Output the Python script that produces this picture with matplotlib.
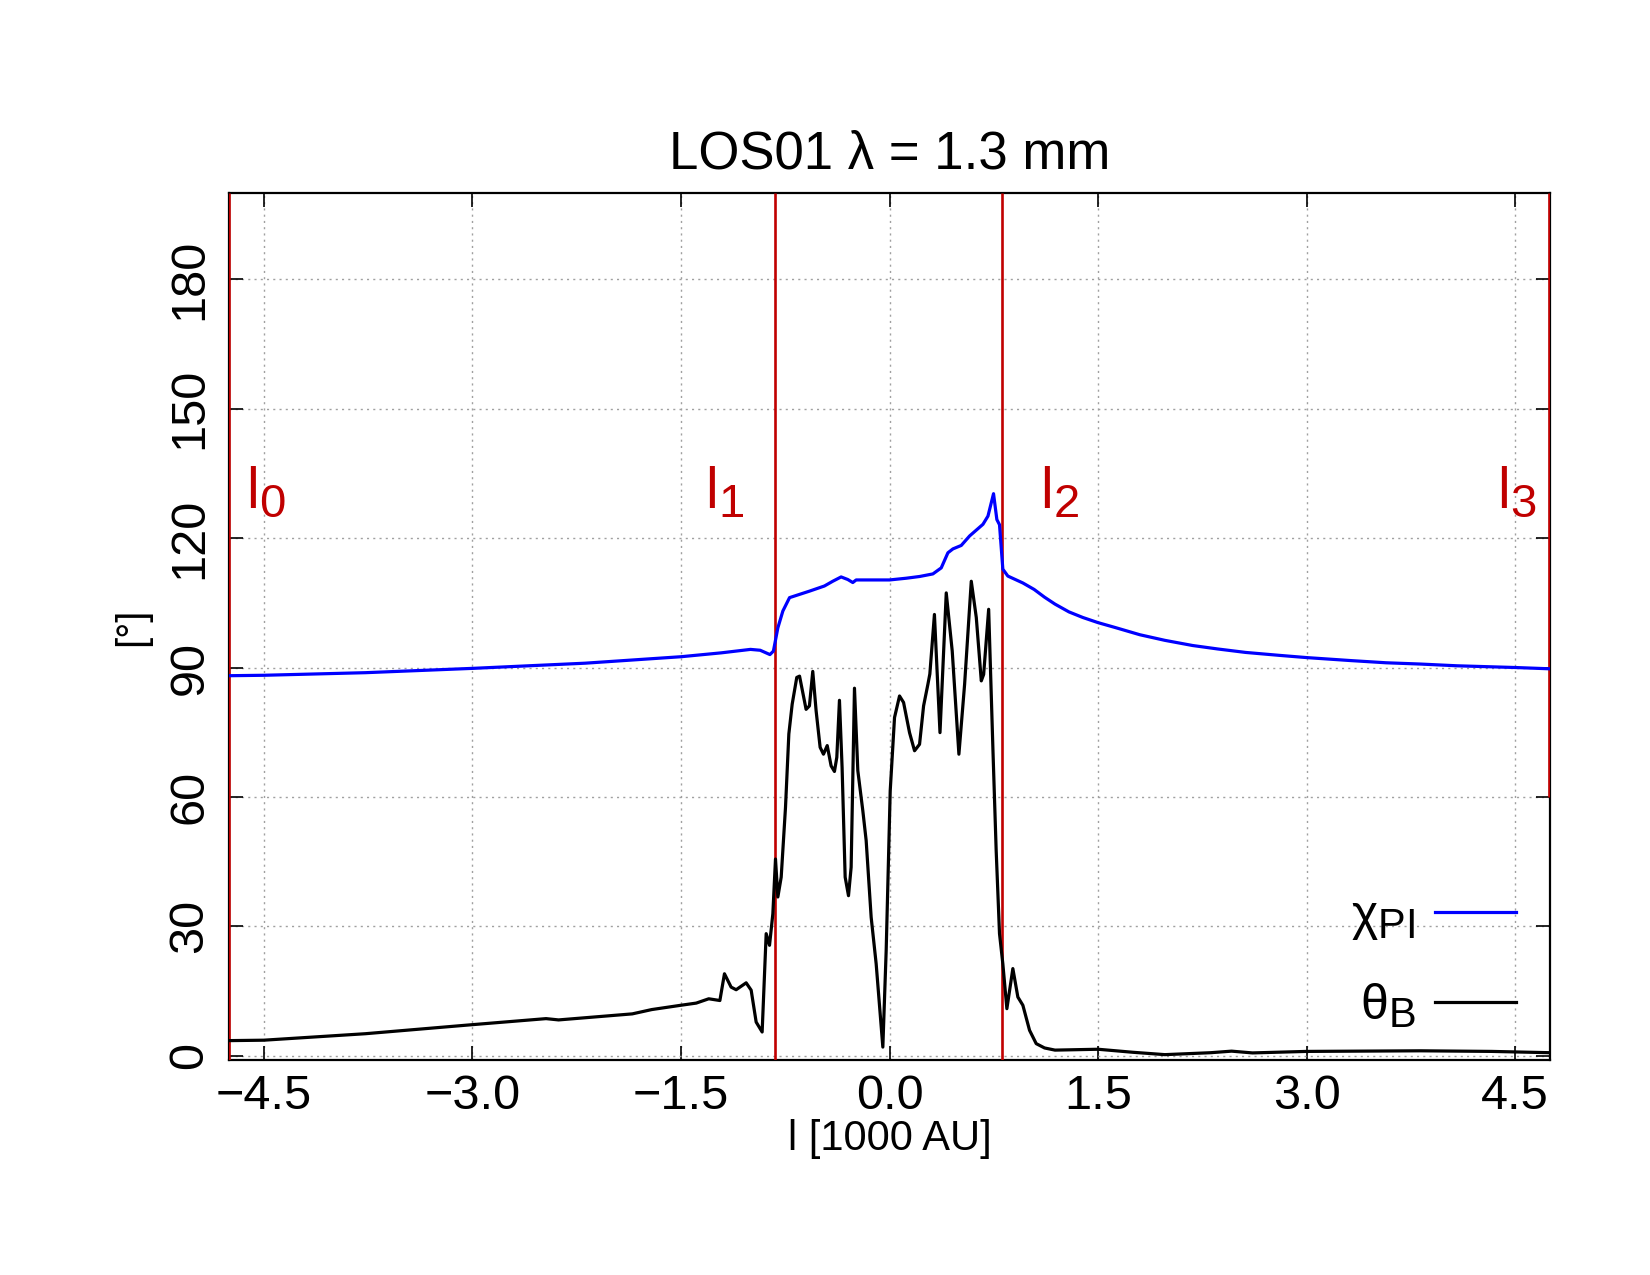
import matplotlib
matplotlib.use("Agg")
import matplotlib.pyplot as plt
from matplotlib.lines import Line2D
import matplotlib._mathtext as _mt

_mt.SHRINK_FACTOR = 0.83  # gnuplot-like larger subscripts

plt.rcParams['font.family'] = ['Liberation Sans', 'DejaVu Sans']
plt.rcParams['mathtext.fontset'] = 'custom'
plt.rcParams['mathtext.rm'] = 'Liberation Sans'
plt.rcParams['mathtext.it'] = 'Liberation Sans:italic'
plt.rcParams['lines.solid_joinstyle'] = 'round'

# ---- data ----
title = "LOS01 λ = 1.3 mm"
xlabel = "l [1000 AU]"
ylabel = "[°]"

chi_x = [-4.75, -4.5, -3.77, -3.0, -2.19, -1.5, -1.21, -1.0, -0.93, -0.86, -0.835,
         -0.803, -0.767, -0.719, -0.576, -0.468, -0.408, -0.348, -0.300, -0.264,
         -0.240, 0.0, 0.120, 0.216, 0.312, 0.372, 0.420, 0.456, 0.516, 0.576, 0.672,
         0.708, 0.748, 0.772, 0.791, 0.815, 0.851, 0.959, 1.04, 1.115, 1.19, 1.29,
         1.39, 1.5, 1.62, 1.80, 1.98, 2.18, 2.36, 2.56, 2.81, 3.0, 3.32, 3.57,
         3.82, 4.08, 4.5, 4.75]
chi_y = [88.1, 88.2, 88.8, 89.8, 91.0, 92.5, 93.4, 94.2, 94.0, 93.0, 93.8,
         99.2, 103.1, 106.2, 107.7, 108.9, 110.0, 111.0, 110.4, 109.7,
         110.3, 110.3, 110.7, 111.1, 111.7, 113.1, 116.6, 117.5, 118.3, 120.5, 123.2,
         125.1, 130.3, 124.3, 123.1, 112.8, 111.2, 109.6, 108.1, 106.3, 104.7, 102.9,
         101.6, 100.4, 99.3, 97.6, 96.3, 95.1, 94.3, 93.5, 92.8, 92.3, 91.6, 91.1,
         90.8, 90.4, 90.0, 89.7]

theta_x = [-4.75, -4.5, -3.77, -3.0, -2.47, -2.38, -1.85, -1.71, -1.5, -1.39, -1.30,
           -1.22, -1.187, -1.139, -1.103, -1.031, -0.995, -0.959, -0.916, -0.887,
           -0.863, -0.839, -0.820, -0.803, -0.779, -0.748, -0.724, -0.700, -0.667,
           -0.647, -0.600, -0.576, -0.552, -0.528, -0.499, -0.475, -0.448, -0.420,
           -0.396, -0.379, -0.360, -0.341, -0.319, -0.295, -0.276, -0.252, -0.228,
           -0.192, -0.168, -0.132, -0.096, -0.048, -0.024, 0.005, 0.036, 0.072,
           0.101, 0.144, 0.180, 0.216, 0.245, 0.276, 0.290, 0.323, 0.363, 0.408,
           0.451, 0.499, 0.540, 0.588, 0.624, 0.660, 0.677, 0.713, 0.744, 0.767,
           0.791, 0.815, 0.844, 0.887, 0.923, 0.959, 1.007, 1.055, 1.115, 1.19,
           1.5, 1.75, 1.98, 2.31, 2.46, 2.61, 3.0, 3.82, 4.33, 4.75]
theta_y = [3.5, 3.6, 5.1, 7.2, 8.6, 8.3, 9.7, 10.7, 11.7, 12.2, 13.2,
           12.8, 19.0, 15.9, 15.3, 16.9, 15.2, 7.8, 5.5, 28.3,
           25.6, 32.9, 45.6, 36.8, 41.4, 57.6, 74.6, 81.5, 87.7,
           88.0, 80.3, 81.1, 89.1, 80.0, 71.5, 69.9, 71.9, 67.2,
           65.9, 69.2, 82.4, 66.8, 41.4, 37.1, 43.7, 85.2, 66.1,
           56.8, 49.9, 32.1, 21.3, 2.0, 24.4, 61.4, 78.4, 83.4,
           81.9, 74.9, 70.7, 72.2, 81.1, 86.1, 88.5, 102.3, 74.9, 107.3,
           93.8, 69.9, 86.1, 110.0, 101.6, 86.9, 88.4, 103.5, 70.7, 47.6,
           28.3, 21.3, 10.9, 20.2, 13.6, 11.7, 5.9, 2.8, 1.8, 1.3,
           1.5, 0.8, 0.25, 0.7, 1.06, 0.65, 1.0, 1.14, 1.0, 0.7]

boundary_x = [-4.75, -0.825, 0.808, 4.74]
boundary_ymin = [-1, -1, -1, 60]
boundary_names = ["0", "1", "2", "3"]
boundary_label_x = [-4.63, -1.33, 1.08, 4.37]
boundary_label_y = 127

xticks = [-4.5, -3.0, -1.5, 0.0, 1.5, 3.0, 4.5]
xticklabels = ["−4.5", "−3.0", "−1.5", "0.0", "1.5", "3.0", "4.5"]
yticks = [0, 30, 60, 90, 120, 150, 180]
yticklabels = ["0", "30", "60", "90", "120", "150", "180"]

legend_labels = ["χ$_{\\mathregular{PI}}$", "θ$_{\\mathregular{B}}$"]

# ---- figure ----
fig = plt.figure(figsize=(16.5, 12.75), dpi=100)
ax = fig.add_axes([0.1388, 0.1686, 0.9394 - 0.1388, 0.8486 - 0.1686])

ax.set_xlim(-4.75, 4.75)
ax.set_ylim(-1, 200)

red = '#c00000'
for bx, bmin, name, lx in zip(boundary_x, boundary_ymin, boundary_names, boundary_label_x):
    ax.vlines(bx, bmin, 200, colors=red, lw=1.9, zorder=3)
    ax.text(lx, boundary_label_y, "l$_{\\mathregular{%s}}$" % name, color=red,
            fontsize=41, ha='left', va='baseline', zorder=4)

ax.plot(theta_x, theta_y, color='black', lw=2.3, zorder=5)
ax.plot(chi_x, chi_y, color='#0000ff', lw=2.3, zorder=6)

ax.set_xticks(xticks)
ax.set_xticklabels(xticklabels)
ax.set_yticks(yticks)
ax.set_yticklabels(yticklabels, rotation=90, va='center')

ax.tick_params(direction='in', length=10, width=1.2, top=True, right=True,
               labelsize=35, pad=10)
ax.tick_params(axis='y', pad=12)
ax.grid(True, color='#a0a0a0', linestyle=(0, (1.5, 3)), lw=1.0)
for s in ax.spines.values():
    s.set_linewidth(1.6)

ax.set_title(title, fontsize=38, pad=18)
ax.set_xlabel(xlabel, fontsize=30, labelpad=0)
ax.set_ylabel(ylabel, fontsize=29, labelpad=12)

handles = [Line2D([], [], color='#0000ff', lw=2.3), Line2D([], [], color='black', lw=2.3)]
ax.legend(handles, legend_labels, loc='lower right', bbox_to_anchor=(0.974, 0.035),
          frameon=False, markerfirst=False, fontsize=36, handlelength=1.62,
          handletextpad=0.38, borderpad=0, borderaxespad=0, labelspacing=0.8)

fig.savefig("out.png", dpi=100)
